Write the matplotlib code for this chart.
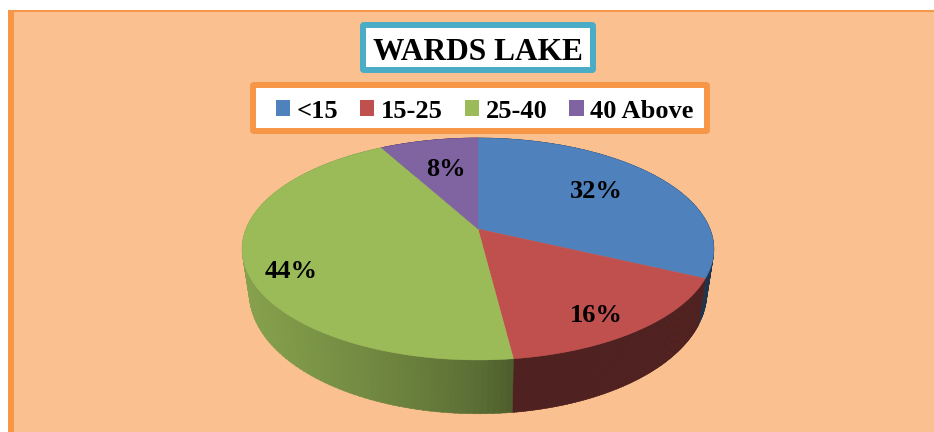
import numpy as np
import matplotlib
matplotlib.use('Agg')
import matplotlib.pyplot as plt
from matplotlib.patches import FancyBboxPatch, Patch, Polygon, Rectangle

# Data
CATEGORIES = ['<15', '15-25', '25-40', '40 Above']
VALUES = [32, 16, 44, 8]
TITLE = 'WARDS LAKE'

# Styles
COLORS = ['#4F81BD', '#C0504D', '#9BBB59', '#8064A2']
SHADE = [(0.40, 0.40), (0.41, 0.41), (0.50, 0.86), (0.6, 0.6)]
BG = '#FBC08F'
ORANGE = '#F79646'
TEAL = '#4BACC6'
LABEL_POS = [(596, 192), (596, 315), (291, 271), (446, 169)]

# Pie geometry in pixels, the top face is a circle seen in perspective
CX, CY = 478, 229
A, B, P = 232, 107.4, 0.18

plt.rcParams['font.family'] = ['Liberation Serif', 'DejaVu Serif']
plt.rcParams['font.weight'] = 'bold'


def top_face(theta):
    # theta is clockwise from 12 o'clock
    u, v = np.sin(theta), np.cos(theta)
    w = 1 + P * v
    return CX + A * u / w, CY - B * v / w


def bottom_face(theta):
    x, y = top_face(theta)
    return CX + (x - CX) * 0.97, 271 + (y - CY) * 1.09


fig = plt.figure(figsize=(9.34, 4.32), dpi=100)
ax = fig.add_axes([0, 0, 1, 1])
ax.set_xlim(0, 934)
ax.set_ylim(432, 0)
ax.axis('off')

# Background and its left and top border
ax.add_patch(Rectangle((8, 10), 926, 422, fc=BG, ec='none', zorder=0))
ax.add_patch(Rectangle((8, 10), 6, 422, fc=ORANGE, ec='none', zorder=1))
ax.add_patch(Rectangle((8, 10), 926, 2, fc=ORANGE, ec='none', zorder=1))

edges = np.cumsum([0] + VALUES) / sum(VALUES) * 2 * np.pi

# Side wall first, as thin shaded strips, lighter towards the left of the pie
x_right = top_face(edges[2])[0]
x_left = CX - A
for i in range(len(VALUES)):
    steps = np.linspace(edges[i], edges[i + 1], 120)
    for j in range(len(steps) - 1):
        a, b = steps[j], steps[j + 1] + 0.003
        t = np.clip((x_right - top_face(a)[0]) / (x_right - x_left), 0, 1) ** 0.7
        f = SHADE[i][0] + (SHADE[i][1] - SHADE[i][0]) * t
        rgb = np.array(matplotlib.colors.to_rgb(COLORS[i])) * f
        pts = [top_face(a), top_face(b), bottom_face(b), bottom_face(a)]
        ax.add_patch(Polygon(pts, fc=rgb, ec=rgb, lw=0.4, zorder=2))

# Top face
for i in range(len(VALUES)):
    steps = np.linspace(edges[i], edges[i + 1], 200)
    xs, ys = top_face(steps)
    pts = [(CX, CY)] + list(zip(xs, ys))
    ax.add_patch(Polygon(pts, fc=COLORS[i], ec=COLORS[i], lw=0.3, zorder=3))
    ax.text(LABEL_POS[i][0], LABEL_POS[i][1], f'{VALUES[i]}%', fontsize=19,
            ha='center', va='center', color='black', zorder=4)

# Title box
ax.add_patch(FancyBboxPatch((363, 25), 230, 45, boxstyle='round,pad=0,rounding_size=1',
                            fc='white', ec=TEAL, lw=4.3, zorder=4))
ax.text(478, 53, TITLE, fontsize=22.6, ha='center', va='center', color='black', zorder=5)

# Legend, its frame is drawn apart because the entries sit off centre in it
ax.add_patch(FancyBboxPatch((253, 85), 454, 46, boxstyle='round,pad=0,rounding_size=1',
                            fc='white', ec=ORANGE, lw=4.3, zorder=4))
handles = [Patch(fc=c, ec='none') for c in COLORS]
leg = ax.legend(handles, CATEGORIES, ncol=4, loc='center', bbox_to_anchor=(484.5, 111),
                bbox_transform=ax.transData, fontsize=19, frameon=False,
                handlelength=0.55, handleheight=0.55, handletextpad=0.25,
                columnspacing=0.82, borderpad=0, borderaxespad=0)
leg.set_zorder(5)

fig.savefig('out.png', dpi=100, facecolor='white')
